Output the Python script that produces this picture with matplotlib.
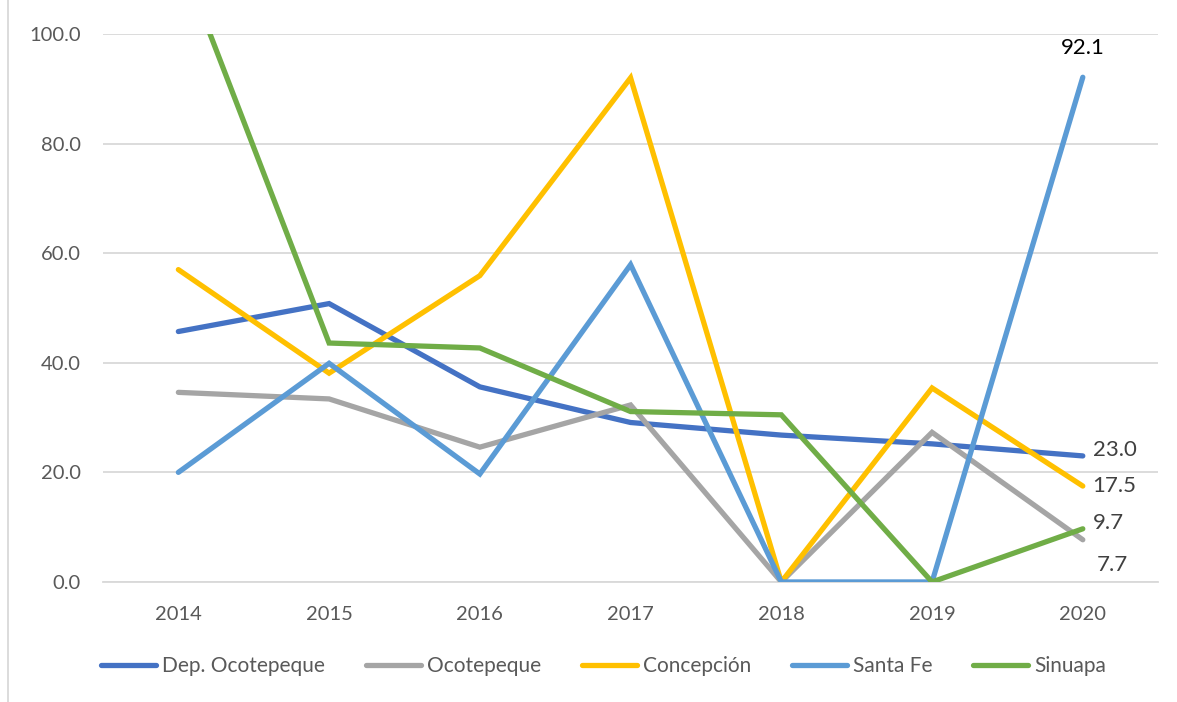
import matplotlib
matplotlib.use("Agg")
import matplotlib.pyplot as plt
from matplotlib.lines import Line2D

plt.rcParams['font.family'] = ['Lato', 'DejaVu Sans']

years = ['2014', '2015', '2016', '2017', '2018', '2019', '2020']
dep_ocotepeque = [45.7, 50.8, 35.6, 29.1, 26.8, 25.2, 23.0]
ocotepeque = [34.6, 33.4, 24.6, 32.3, 0.0, 27.3, 7.7]
concepcion = [57.0, 38.1, 55.9, 92.0, 0.0, 35.4, 17.5]
santa_fe = [20.0, 39.9, 19.7, 57.9, 0.0, 0.0, 92.1]
sinuapa = [115.0, 43.6, 42.7, 31.1, 30.5, 0.0, 9.7]

names = ['Dep. Ocotepeque', 'Ocotepeque', 'Concepción', 'Santa Fe', 'Sinuapa']
series = [dep_ocotepeque, ocotepeque, concepcion, santa_fe, sinuapa]
colors = ['#4472C4', '#A5A5A5', '#FFC000', '#5B9BD5', '#70AD47']

fig = plt.figure(figsize=(11.77, 7.02), dpi=100)
ax = fig.add_axes([0.0875, 0.171, 0.8965, 0.7806])

x = list(range(len(years)))
for vals, c in zip(series, colors):
    ax.plot(x, vals, color=c, lw=3.8, solid_capstyle='round', solid_joinstyle='miter', zorder=3)

ax.set_xlim(-0.5, 6.5)
ax.set_ylim(0, 100)
ax.set_yticks([0, 20, 40, 60, 80, 100])
ax.set_yticklabels([f'{v:.1f}' for v in [0, 20, 40, 60, 80, 100]])
ax.set_xticks(x)
ax.set_xticklabels(years)
ax.grid(axis='y', color='#D9D9D9', lw=1.3)
ax.set_axisbelow(True)
for s in ['top', 'right', 'left']:
    ax.spines[s].set_visible(False)
ax.spines['bottom'].set_color('#D9D9D9')
ax.spines['bottom'].set_linewidth(1.3)
ax.tick_params(axis='both', length=0, labelsize=14.5, colors='#595959')
ax.tick_params(axis='y', pad=16)
ax.tick_params(axis='x', pad=17)

# end labels for 2020
lab_col = '#404040'
lab_fs = 16
ax.annotate(f'{santa_fe[-1]:.1f}', (6, santa_fe[-1]), xytext=(0, 14), textcoords='offset points',
            ha='center', va='bottom', fontsize=lab_fs, color='black', annotation_clip=False)
ax.annotate(f'{dep_ocotepeque[-1]:.1f}', (6, dep_ocotepeque[-1]), xytext=(7, 4), textcoords='offset points',
            ha='left', va='center', fontsize=lab_fs, color=lab_col)
ax.annotate(f'{concepcion[-1]:.1f}', (6, concepcion[-1]), xytext=(7, 0), textcoords='offset points',
            ha='left', va='center', fontsize=lab_fs, color=lab_col)
ax.annotate(f'{sinuapa[-1]:.1f}', (6, sinuapa[-1]), xytext=(7, 4), textcoords='offset points',
            ha='left', va='center', fontsize=lab_fs, color=lab_col)
ax.annotate(f'{ocotepeque[-1]:.1f}', (6, ocotepeque[-1]), xytext=(10, -18), textcoords='offset points',
            ha='left', va='center', fontsize=lab_fs, color=lab_col)

handles = [Line2D([], [], color=c, lw=3.8, solid_capstyle='round') for c in colors]
fig.legend(handles, names, loc='center', bbox_to_anchor=(0.513, 0.051), ncol=5, frameon=False,
           fontsize=15, handlelength=2.64, handletextpad=0.3, columnspacing=1.95,
           labelcolor='#595959')

# chart area border on the left
fig.add_artist(Line2D([0.0068, 0.0068], [0, 1], color='#D9D9D9', lw=1.3, transform=fig.transFigure))

fig.savefig('out.png', dpi=100)
